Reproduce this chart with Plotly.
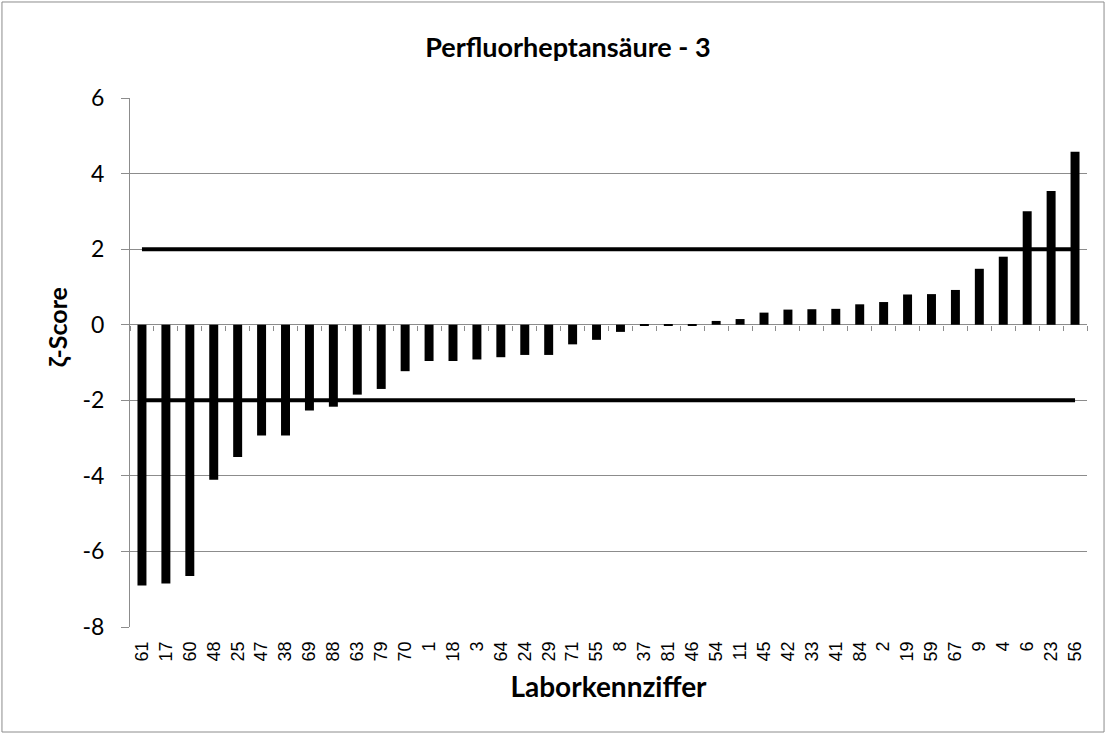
import plotly.graph_objects as go

labs = ["61","17","60","48","25","47","38","69","88","63","79","70","1","18","3","64","24","29","71","55",
        "8","37","81","46","54","11","45","42","33","41","84","2","19","59","67","9","4","6","23","56"]
zscores = [-6.9,-6.85,-6.65,-4.1,-3.5,-2.93,-2.93,-2.27,-2.17,-1.85,-1.7,-1.23,-0.96,-0.96,-0.92,-0.86,-0.8,-0.8,-0.52,-0.4,
           -0.19,-0.03,-0.03,-0.03,0.1,0.15,0.32,0.4,0.41,0.42,0.54,0.6,0.8,0.81,0.92,1.48,1.8,3.0,3.54,4.58]
upper = [2]*len(labs)
lower = [-2]*len(labs)
yticks = [-8, -6, -4, -2, 0, 2, 4, 6]
yticktext = ["-8", "-6", "-4", "-2", "0", "2", "4", "6"]

GRAY = "#8c8c8c"
xrange_ = [-0.5, len(labs) - 0.5]

fig = go.Figure()
fig.add_trace(go.Bar(x=labs, y=zscores, marker=dict(color="black", line=dict(width=0)),
                     showlegend=False, hoverinfo="x+y"))
fig.add_trace(go.Scatter(x=labs, y=upper, mode="lines", line=dict(color="black", width=4),
                         showlegend=False, hoverinfo="skip"))
fig.add_trace(go.Scatter(x=labs, y=lower, mode="lines", line=dict(color="black", width=4),
                         showlegend=False, hoverinfo="skip"))
# invisible helper trace carrying the category tick marks on the zero line
fig.add_trace(go.Scatter(x=labs, y=zscores, xaxis="x2", mode="markers", marker=dict(opacity=0, size=1),
                         showlegend=False, hoverinfo="skip"))

fig.update_layout(
    width=1107, height=735,
    margin=dict(l=130, r=20, t=98, b=108),
    paper_bgcolor="white", plot_bgcolor="white",
    bargap=0.625,
    font=dict(family="Lato", color="black"),
    title=dict(text="<b>Perfluorheptansäure - 3</b>", x=0.513, xanchor="center", y=0.935, yanchor="middle",
               font=dict(family="Lato", size=27, color="black")),
    shapes=[dict(type="rect", xref="paper", yref="paper", x0=-0.1338, x1=1.0178, y0=-0.1985, y1=1.1815,
                 line=dict(color=GRAY, width=1))],
    annotations=[dict(text="<b>ζ-Score</b>", xref="paper", yref="paper", x=-0.076, y=0.567,
                      xanchor="center", yanchor="middle", textangle=-90, showarrow=False,
                      font=dict(family="Lato", size=25, color="black"))],
    xaxis=dict(type="category", range=xrange_, tickmode="linear", dtick=1, tickangle=-90,
               tickfont=dict(size=18, family="Liberation Sans"),
               showgrid=False, showline=False, ticks="", ticklabelstandoff=10,
               title=dict(text="<b>Laborkennziffer</b>", font=dict(family="Lato", size=28), standoff=16)),
    xaxis2=dict(type="category", overlaying="x", range=xrange_, anchor="free", position=8/14,
                showticklabels=False, showgrid=False, showline=False, ticks="outside",
                tickson="boundaries", tickmode="linear", dtick=1, ticklen=5, tickcolor=GRAY, tickwidth=1),
    yaxis=dict(range=[-8, 6], tickvals=yticks, ticktext=yticktext, showgrid=True, gridcolor=GRAY, gridwidth=1,
               zeroline=True, zerolinecolor=GRAY, zerolinewidth=1,
               showline=True, linecolor=GRAY, ticks="outside", ticklen=8, tickcolor=GRAY,
               tickfont=dict(size=23, family="Lato"), ticklabelstandoff=12),
)

fig.write_html("out.html", config={"displayModeBar": False},
               post_script="document.body.style.margin='0';")
